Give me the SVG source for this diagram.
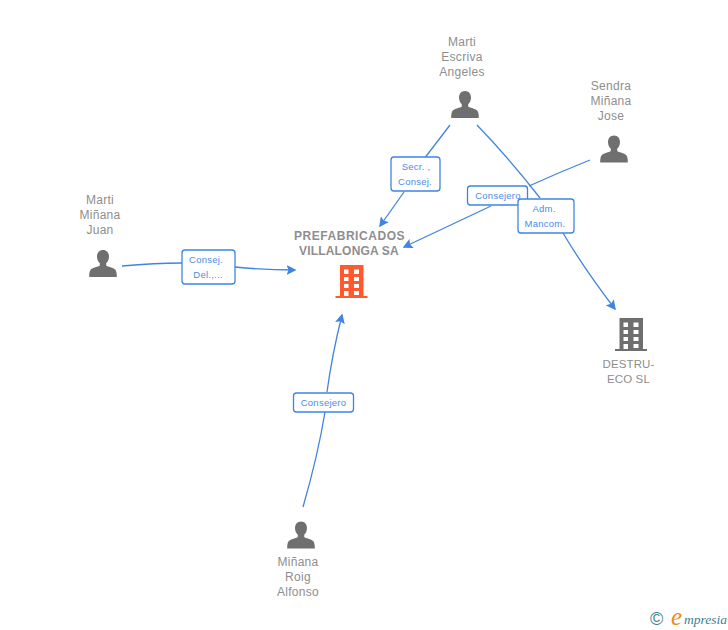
<svg xmlns="http://www.w3.org/2000/svg" width="728" height="630" viewBox="0 0 728 630">
<style>
text{font-family:"Liberation Sans",Arial,sans-serif}
.n{font-size:12px;fill:#8e8e8e;text-anchor:middle;letter-spacing:.3px}
.d{font-size:11.500px;fill:#8e8e8e;text-anchor:middle;letter-spacing:.1px}
.b{font-size:12px;font-weight:bold;fill:#8e8e8e;text-anchor:middle;letter-spacing:.55px}
.v{letter-spacing:.17px}
.l{font-size:9.500px;fill:#4a8ce6;text-anchor:middle;letter-spacing:.25px}
.c{fill:none;stroke:#3f84e4;stroke-width:1.300}
.r{fill:#fff;stroke:#3f84e4;stroke-width:1.300}
.p{fill:#6f6f6f}
</style>
<defs>
<marker id="a" viewBox="0 0 10 10" refX="8.500" refY="5" markerWidth="10" markerHeight="10" markerUnits="userSpaceOnUse" orient="auto"><path d="M0 0L10 5L0 10L2 5Z" fill="#3f84e4"/></marker>
<symbol id="u" viewBox="0 0 28 27" overflow="visible"><path d="M14 0c3.600 0 6 2.800 6 6.500c0 3-1.200 5.200-2.800 6.700v2.300c1.500 1.300 7 2 9.200 4.300c1.300 1.400 1.400 5 1.400 7.200H.2c0-2.200.1-5.800 1.400-7.200c2.200-2.300 7.700-3 9.200-4.300v-2.300c-1.600-1.500-2.800-3.700-2.800-6.700c0-3.700 2.400-6.500 6-6.500Z"/></symbol>
<symbol id="bd" viewBox="0 0 32 33" overflow="visible"><path fill-rule="evenodd" d="M4.500 0H28V31H32V33H0V31H4.500ZM8.500 4.500V9H13V4.500ZM18.500 4.500V9H23.500V4.500ZM8.500 12V16H13V12ZM18.500 12V16H23.500V12ZM8.500 19V23H13V19ZM18.500 19V23H23.500V19ZM8.500 26V31H13V26ZM18.500 26V30H23.500V26Z"/></symbol>
</defs>
<g id="connectors">
<path class="c" d="M122 266Q155 263 182 263M235 267Q265 270 295 270" marker-end="url(#a)"/>
<path class="c" d="M303 507Q318 455 325 412M327 392Q332 355 342 315" marker-end="url(#a)"/>
<path class="c" d="M450 125L411 176"/>
<path class="c" d="M404 192L380 226" marker-end="url(#a)"/>
<path class="c" d="M590 160Q560 172 529 186"/>
<path class="c" d="M491 206L404 247" marker-end="url(#a)"/>
<path class="c" d="M477 125Q507 156 540 198"/>
<path class="c" d="M563 233Q585 270 615 309" marker-end="url(#a)"/>
</g>
<g id="label-consej-del"><rect class="r" x="182" y="250" width="53" height="34" rx="3"/><text class="l" x="206" y="263">Consej.</text><text class="l" x="208" y="278">Del.,...</text></g>
<g id="label-consejero-roig"><rect class="r" x="293.500" y="393" width="60" height="19" rx="3"/><text class="l" x="323.500" y="406">Consejero</text></g>
<g id="label-secr"><rect class="r" x="391" y="157" width="49" height="34" rx="3"/><text class="l" x="416" y="170">Secr. ,</text><text class="l" x="415" y="185">Consej.</text></g>
<g id="label-consejero"><rect class="r" x="467.500" y="186" width="60" height="19" rx="3"/><text class="l" x="498" y="199">Consejero</text></g>
<g id="label-adm"><rect class="r" x="518" y="199" width="56" height="34" rx="3"/><text class="l" x="544" y="212">Adm.</text><text class="l" x="545" y="227">Mancom.</text></g>
<g id="node-prefabricados"><text class="b" x="349.500" y="240">PREFABRICADOS</text><text class="b v" x="349" y="255">VILLALONGA SA</text><use href="#bd" x="335.500" y="265" width="32" height="33" fill="#ff5a2d"/></g>
<g id="node-destru"><use href="#bd" x="615" y="318" width="32" height="33" class="p"/><text class="d" x="628.500" y="368">DESTRU-</text><text class="d" x="628.500" y="383">ECO SL</text></g>
<g id="node-juan"><text class="n" x="100" y="204">Marti</text><text class="n" x="100" y="219">Miñana</text><text class="n" x="100" y="234">Juan</text><use href="#u" x="89" y="250" width="28" height="27" class="p"/></g>
<g id="node-angeles"><text class="n" x="462" y="46">Marti</text><text class="n" x="462" y="61">Escriva</text><text class="n" x="462" y="76">Angeles</text><use href="#u" x="451" y="91" width="28" height="27" class="p"/></g>
<g id="node-sendra"><text class="n" x="611" y="90">Sendra</text><text class="n" x="611" y="105">Miñana</text><text class="n" x="611" y="120">Jose</text><use href="#u" x="600" y="135.500" width="28" height="27" class="p"/></g>
<g id="node-alfonso"><text class="n" x="298" y="566">Miñana</text><text class="n" x="298" y="581">Roig</text><text class="n" x="298" y="596">Alfonso</text><use href="#u" x="287" y="521.500" width="28" height="27" class="p"/></g>
<g id="logo"><text x="650" y="625" style="font-size:18px" fill="#3e7f93">©</text><text x="671" y="625" style="font-family:'Liberation Serif',serif;font-style:italic;font-size:25px" fill="#f08a1d">e</text><text x="684" y="624" style="font-family:'Liberation Serif',serif;font-style:italic;font-size:13.500px" fill="#3e7f93">mpresia</text></g>
</svg>
